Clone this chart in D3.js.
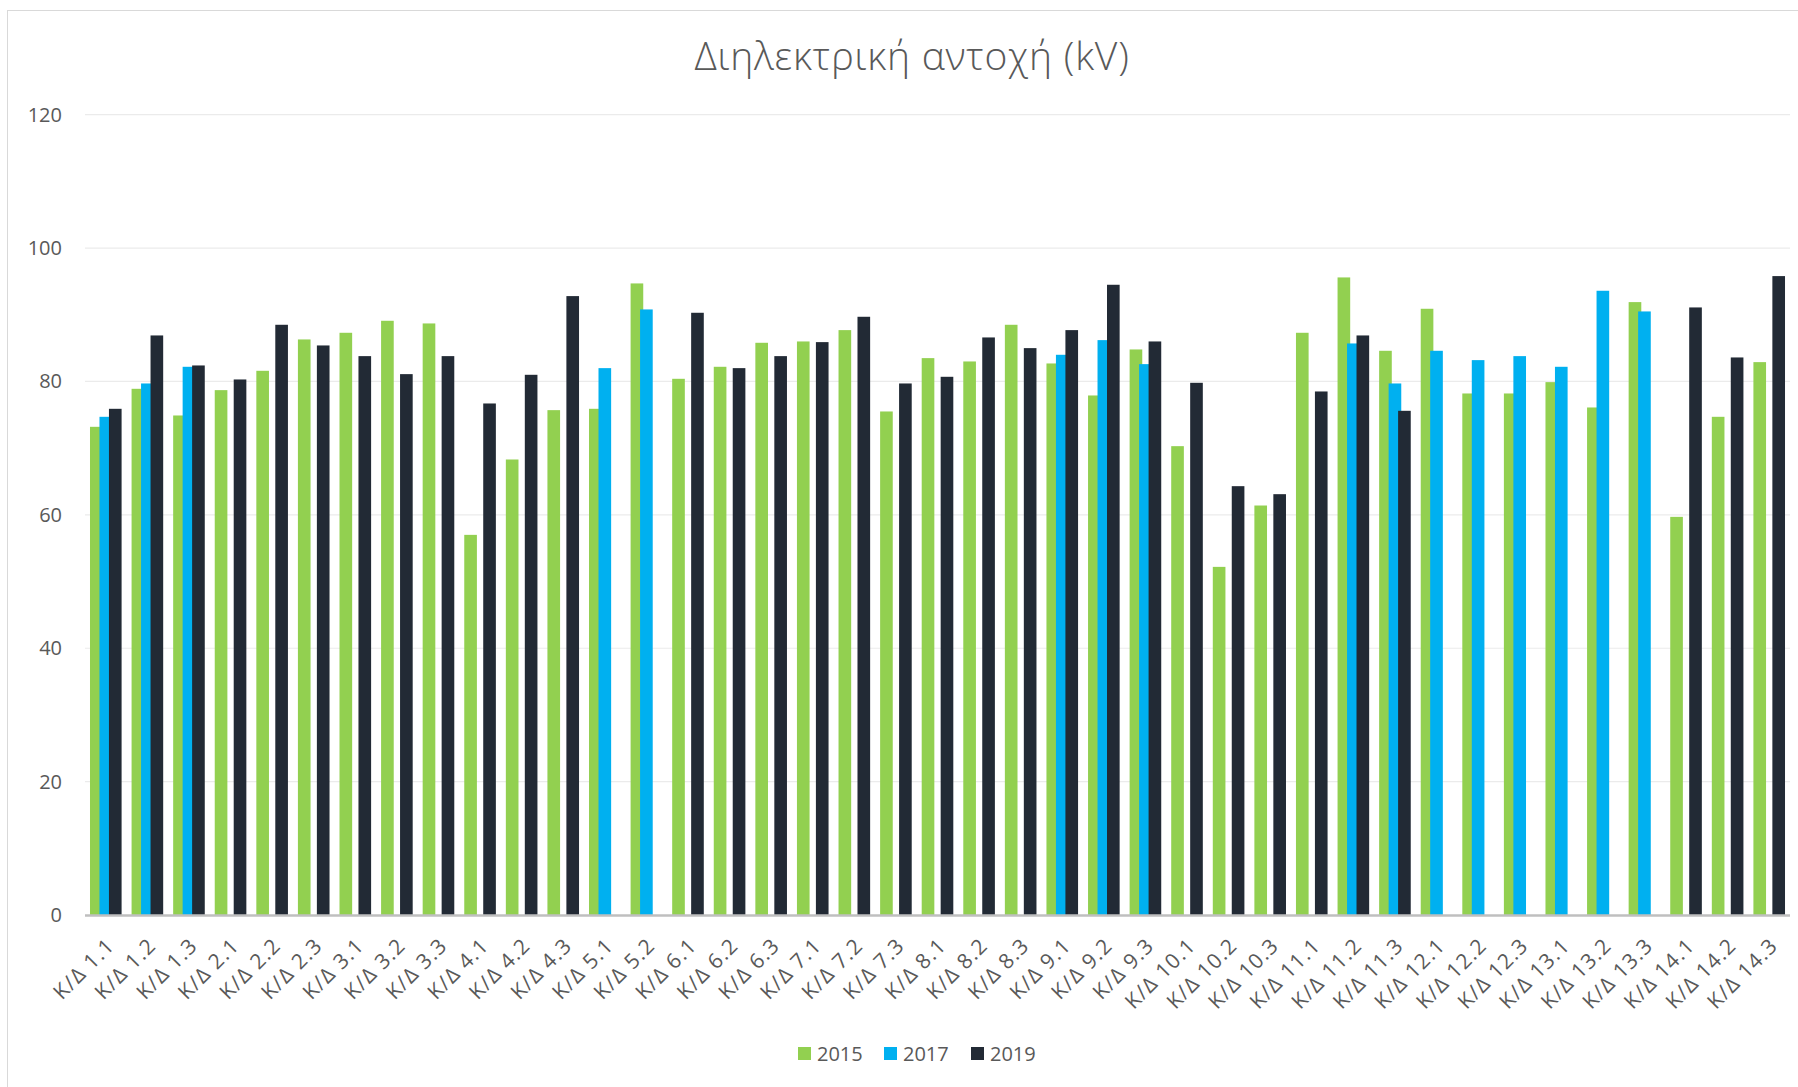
<!DOCTYPE html>
<html>
<head>
<meta charset="utf-8">
<script src="https://cdn.jsdelivr.net/npm/d3@7"></script>
<style>
  body { margin: 0; background: #fff; }
  svg { display: block; font-family: "Open Sans", "Noto Sans", sans-serif; }
</style>
</head>
<body>
<svg id="chart"></svg>
<script>
// categories (Κ/Δ = κέντρο διανομής)
const categories = [
  "1.1","1.2","1.3","2.1","2.2","2.3","3.1","3.2","3.3","4.1","4.2","4.3",
  "5.1","5.2","6.1","6.2","6.3","7.1","7.2","7.3","8.1","8.2","8.3",
  "9.1","9.2","9.3","10.1","10.2","10.3","11.1","11.2","11.3",
  "12.1","12.2","12.3","13.1","13.2","13.3","14.1","14.2","14.3"
].map(c => "Κ/Δ " + c);

const years = ["2015", "2017", "2019"];
const colors = ["#92D050", "#00B0F0", "#222A35"];

const v2015 = [73.2, 78.9, 74.9, 78.7, 81.6, 86.3, 87.3, 89.1, 88.7, 57.0, 68.3, 75.7,
  75.9, 94.7, 80.4, 82.2, 85.8, 86.0, 87.7, 75.5, 83.5, 83.0, 88.5,
  82.7, 77.9, 84.8, 70.3, 52.2, 61.4, 87.3, 95.6, 84.6,
  90.9, 78.2, 78.2, 79.9, 76.1, 91.9, 59.7, 74.7, 82.9];
const v2017 = [74.7, 79.7, 82.2, null, null, null, null, null, null, null, null, null,
  82.0, 90.8, null, null, null, null, null, null, null, null, null,
  84.0, 86.2, 82.6, null, null, null, null, 85.7, 79.7,
  84.6, 83.2, 83.8, 82.2, 93.6, 90.5, null, null, null];
const v2019 = [75.9, 86.9, 82.4, 80.3, 88.5, 85.4, 83.8, 81.1, 83.8, 76.7, 81.0, 92.8,
  null, null, 90.3, 82.0, 83.8, 85.9, 89.7, 79.7, 80.7, 86.6, 85.0,
  87.7, 94.5, 86.0, 79.8, 64.3, 63.1, 78.5, 86.9, 75.6,
  null, null, null, null, null, null, 91.1, 83.6, 95.8];
const yTicks = [0, 20, 40, 60, 80, 100, 120];

const series = [v2015, v2017, v2019];

const width = 1798, height = 1087;
const svg = d3.select("#chart").attr("width", width).attr("height", height);

// outer chart border
svg.append("rect")
  .attr("x", 7.5).attr("y", 10.5)
  .attr("width", width).attr("height", height)
  .attr("fill", "none").attr("stroke", "#d9d9d9");

const plotLeft = 85, plotRight = 1790, plotTop = 114.7, plotBottom = 915;

const y = d3.scaleLinear().domain([0, 120]).range([plotBottom, plotTop]);

const x0 = d3.scaleBand()
  .domain(categories)
  .range([plotLeft, plotRight])
  .paddingInner(0.24)
  .paddingOuter(0.12);

// bars overlap a bit, like the original
const barW = x0.bandwidth() / 2.5;
const x1 = d3.scaleLinear().domain([0, 2]).range([0, x0.bandwidth() - barW]);

// gridlines
svg.append("g")
  .selectAll("line")
  .data(yTicks.filter(d => d > 0))
  .join("line")
  .attr("x1", plotLeft).attr("x2", plotRight)
  .attr("y1", d => y(d)).attr("y2", d => y(d))
  .attr("stroke", "#ebebeb").attr("stroke-width", 1.2);

// y labels
svg.append("g")
  .selectAll("text")
  .data(yTicks)
  .join("text")
  .attr("x", 62)
  .attr("y", d => y(d))
  .attr("dy", "0.35em")
  .attr("text-anchor", "end")
  .attr("font-size", 20)
  .attr("fill", "#595959")
  .text(d => d);

// bars
series.forEach((vals, si) => {
  svg.append("g")
    .attr("fill", colors[si])
    .selectAll("rect")
    .data(vals.map((v, i) => ({ cat: categories[i], v })).filter(d => d.v != null))
    .join("rect")
    .attr("x", d => x0(d.cat) + x1(si))
    .attr("width", barW)
    .attr("y", d => y(d.v))
    .attr("height", d => y(0) - y(d.v));
});

// baseline
svg.append("line")
  .attr("x1", plotLeft).attr("x2", plotRight)
  .attr("y1", plotBottom + 0.5).attr("y2", plotBottom + 0.5)
  .attr("stroke", "#bfbfbf").attr("stroke-width", 2.5);

// category labels
svg.append("g")
  .selectAll("text")
  .data(categories)
  .join("text")
  .attr("text-anchor", "end")
  .attr("font-size", 21)
  .attr("letter-spacing", 1.2)
  .attr("fill", "#595959")
  .attr("transform", d => `translate(${x0(d) + x0.bandwidth() / 2 + 10},${plotBottom + 32}) rotate(-45)`)
  .text(d => d);

// title
svg.append("text")
  .attr("x", 912).attr("y", 70)
  .attr("text-anchor", "middle")
  .attr("font-size", 39)
  .attr("font-weight", 300)
  .attr("letter-spacing", 0.8)
  .attr("fill", "#595959")
  .text("Διηλεκτρική αντοχή (kV)");

// legend
const legendX = [798, 884, 971];
const legend = svg.append("g")
  .selectAll("g")
  .data(years)
  .join("g")
  .attr("transform", (d, i) => `translate(${legendX[i]},1047)`);
legend.append("rect")
  .attr("width", 13).attr("height", 13)
  .attr("fill", (d, i) => colors[i]);
legend.append("text")
  .attr("x", 19).attr("y", 6.5)
  .attr("dy", "0.35em")
  .attr("font-size", 20)
  .attr("fill", "#595959")
  .text(d => d);
</script>
</body>
</html>
